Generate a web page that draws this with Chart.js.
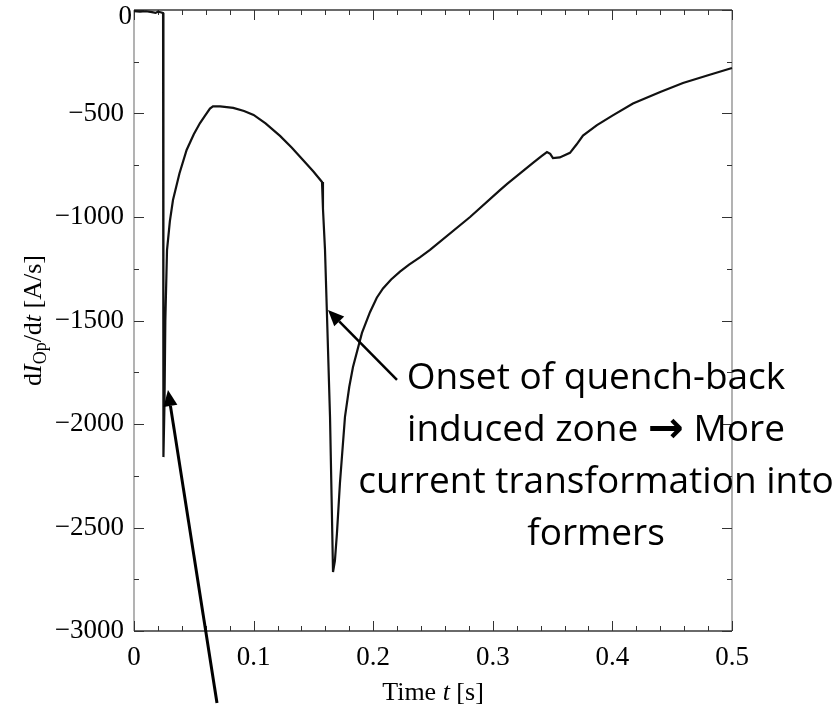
<!DOCTYPE html>
<html>
<head>
<meta charset="utf-8">
<script src="https://cdn.jsdelivr.net/npm/chart.js@4/dist/chart.umd.min.js"></script>
<style>
  html, body { margin: 0; padding: 0; background: #ffffff; }
  #chart { display: block; }
</style>
</head>
<body>
<canvas id="chart" width="838" height="709"></canvas>
<script>
// Time base of the measured trace [s]
const timeS = [
  0, 0.005, 0.010, 0.015, 0.018, 0.020, 0.023, 0.0243,
  0.0246, 0.0255, 0.0262, 0.0276, 0.0300, 0.0326, 0.038, 0.044,
  0.050, 0.0552, 0.060, 0.0635, 0.066, 0.072, 0.083, 0.092,
  0.100, 0.110, 0.1221, 0.132, 0.1413, 0.150, 0.1572, 0.1580,
  0.1597, 0.1614, 0.1639, 0.1652, 0.1664, 0.1680, 0.1697, 0.1722,
  0.1764, 0.180, 0.1831, 0.1906, 0.1973, 0.203, 0.2082, 0.215,
  0.2224, 0.230, 0.239, 0.2475, 0.281, 0.306, 0.312, 0.3336,
  0.341, 0.3453, 0.348, 0.3503, 0.356, 0.3645, 0.370, 0.3754,
  0.3871, 0.400, 0.4172, 0.440, 0.459, 0.480, 0.500
];

// Rate of change of the operating current dI_Op/dt [A/s]
const dIdtValues = [
  -5, -8, -6, -10, -14, -8, -12, -15,
  -2160, -1900, -1500, -1160, -1020, -918, -790, -676,
  -600, -546, -505, -476, -465, -466, -473, -488,
  -507, -548, -608, -665, -725, -780, -831, -960,
  -1159, -1483, -1966, -2350, -2715, -2660, -2527, -2285,
  -1966, -1820, -1725, -1560, -1460, -1390, -1345, -1302,
  -1264, -1230, -1195, -1159, -1000, -870, -840, -739,
  -705, -686, -695, -715, -712, -690, -650, -607,
  -556, -510, -452, -396, -353, -315, -280
];

// Axis ticks
const xMajorTicks = [0, 0.1, 0.2, 0.3, 0.4, 0.5];
const xMinorTicks = [0.02, 0.04, 0.06, 0.08, 0.12, 0.14, 0.16, 0.18, 0.22, 0.24, 0.26, 0.28,
                     0.32, 0.34, 0.36, 0.38, 0.42, 0.44, 0.46, 0.48];
const yMajorTicks = [0, -500, -1000, -1500, -2000, -2500, -3000];
const yMinorTicks = [-250, -750, -1250, -1750, -2250, -2750];

// Annotation text and arrows (tip / tail in data units)
const noteLines = ['Onset of quench-back', 'induced zone \u2192 More', 'current transformation into', 'formers'];
const arrowTips  = [[0.0284, -1836], [0.1622, -1449]];
const arrowTails = [[0.0694, -3348], [0.2199, -1787]];

const SERIF = '"Liberation Serif", "Times New Roman", serif';
const SANS = '"Open Sans", "Noto Sans", sans-serif';
const TICK_FONT = '27px ' + SERIF;

function drawRuns(ctx, runs, x, y) {
  let cx = x;
  runs.forEach(r => {
    ctx.font = r.font;
    ctx.fillText(r.text, cx, y + (r.dy || 0));
    cx += ctx.measureText(r.text).width;
  });
}
function runsWidth(ctx, runs) {
  let w = 0;
  runs.forEach(r => { ctx.font = r.font; w += ctx.measureText(r.text).width; });
  return w;
}

function arrow(ctx, x0, y0, x1, y1, lw, headLen, headHalf) {
  const ang = Math.atan2(y1 - y0, x1 - x0);
  const bx = x1 - headLen * Math.cos(ang);
  const by = y1 - headLen * Math.sin(ang);
  ctx.strokeStyle = '#000';
  ctx.lineWidth = lw;
  ctx.beginPath();
  ctx.moveTo(x0, y0);
  ctx.lineTo(bx, by);
  ctx.stroke();
  ctx.fillStyle = '#000';
  ctx.beginPath();
  ctx.moveTo(x1, y1);
  ctx.lineTo(bx + headHalf * Math.sin(ang), by - headHalf * Math.cos(ang));
  ctx.lineTo(bx - headHalf * Math.sin(ang), by + headHalf * Math.cos(ang));
  ctx.closePath();
  ctx.fill();
}

// Box frame with inward ticks on all four sides
const framePlugin = {
  id: 'frame',
  beforeDatasetsDraw(chart) {
    const ctx = chart.ctx;
    const a = chart.chartArea;
    const xs = chart.scales.x, ys = chart.scales.y;
    ctx.save();
    ctx.lineWidth = 1.3;
    ctx.strokeStyle = '#8a8a8a';
    ctx.beginPath();
    ctx.moveTo(a.left, a.top); ctx.lineTo(a.left, a.bottom);
    ctx.moveTo(a.right, a.top); ctx.lineTo(a.right, a.bottom);
    ctx.stroke();
    ctx.strokeStyle = '#3a3a3a';
    ctx.beginPath();
    ctx.moveTo(a.left, a.top); ctx.lineTo(a.right, a.top);
    ctx.moveTo(a.left, a.bottom); ctx.lineTo(a.right, a.bottom);
    ctx.stroke();

    ctx.strokeStyle = '#333';
    ctx.lineWidth = 1;
    ctx.beginPath();
    const xt = (v, len) => {
      const p = Math.round(xs.getPixelForValue(v)) + 0.5;
      ctx.moveTo(p, a.bottom); ctx.lineTo(p, a.bottom - len);
      ctx.moveTo(p, a.top); ctx.lineTo(p, a.top + len);
    };
    const yt = (v, len) => {
      const p = Math.round(ys.getPixelForValue(v)) + 0.5;
      ctx.moveTo(a.left, p); ctx.lineTo(a.left + len, p);
      ctx.moveTo(a.right, p); ctx.lineTo(a.right - len, p);
    };
    xMajorTicks.forEach(v => xt(v, 10));
    xMinorTicks.forEach(v => xt(v, 5));
    yMajorTicks.forEach(v => yt(v, 10));
    yMinorTicks.forEach(v => yt(v, 5));
    ctx.stroke();
    ctx.restore();
  }
};

// Axis titles (mixed italic / subscript), the top y label and the annotations
const labelPlugin = {
  id: 'labels',
  afterDraw(chart) {
    const ctx = chart.ctx;
    const a = chart.chartArea;
    const xs = chart.scales.x, ys = chart.scales.y;
    ctx.save();
    ctx.fillStyle = '#000';

    // the y label at the top edge sits just below the frame corner
    ctx.font = TICK_FONT;
    ctx.textAlign = 'right';
    ctx.textBaseline = 'middle';
    ctx.fillText('0', a.left - 2, ys.getPixelForValue(0) + 7);

    ctx.textBaseline = 'alphabetic';
    ctx.textAlign = 'left';

    // x-axis title
    const xRuns = [
      { text: 'Time ', font: '26px ' + SERIF },
      { text: 't', font: 'italic 26px ' + SERIF },
      { text: ' [s]', font: '26px ' + SERIF }
    ];
    const xw = runsWidth(ctx, xRuns);
    drawRuns(ctx, xRuns, (a.left + a.right) / 2 - xw / 2, 700);

    // y-axis title
    const yRuns = [
      { text: 'd', font: '26px ' + SERIF },
      { text: 'I', font: 'italic 26px ' + SERIF },
      { text: 'Op', font: '18px ' + SERIF, dy: 5 },
      { text: '/d', font: '26px ' + SERIF },
      { text: 't', font: 'italic 26px ' + SERIF },
      { text: ' [A/s]', font: '26px ' + SERIF }
    ];
    const yw = runsWidth(ctx, yRuns);
    ctx.save();
    ctx.translate(41, (a.top + a.bottom) / 2);
    ctx.rotate(-Math.PI / 2);
    drawRuns(ctx, yRuns, -yw / 2, 0);
    ctx.restore();

    // arrows
    arrow(ctx, xs.getPixelForValue(arrowTails[0][0]), ys.getPixelForValue(arrowTails[0][1]),
               xs.getPixelForValue(arrowTips[0][0]), ys.getPixelForValue(arrowTips[0][1]), 3, 16, 7);
    arrow(ctx, xs.getPixelForValue(arrowTails[1][0]), ys.getPixelForValue(arrowTails[1][1]),
               xs.getPixelForValue(arrowTips[1][0]), ys.getPixelForValue(arrowTips[1][1]), 2.5, 16, 7);

    // annotation text, sized so the longest line spans its box
    ctx.font = '100px ' + SANS;
    const size = Math.round(100 * 472 / ctx.measureText(noteLines[2]).width);
    const baseFont = size + 'px ' + SANS;
    const cx = 596;
    noteLines.forEach((line, i) => {
      const y = 389 + i * 52;
      if (line.indexOf('\u2192') >= 0) {
        // the bold arrow glyph is set in its own heavier face
        const parts = line.split('\u2192');
        const runs = [
          { text: parts[0], font: baseFont },
          { text: '\u2192', font: 'bold ' + Math.round(size * 1.15) + 'px "DejaVu Sans", sans-serif', dy: 1 },
          { text: parts[1], font: baseFont }
        ];
        const w = runsWidth(ctx, runs);
        ctx.textAlign = 'left';
        drawRuns(ctx, runs, cx - w / 2, y);
      } else {
        ctx.font = baseFont;
        ctx.textAlign = 'center';
        ctx.fillText(line, cx, y);
      }
    });
    ctx.restore();
  }
};

new Chart(document.getElementById('chart'), {
  type: 'scatter',
  data: {
    datasets: [{
      data: timeS.map((t, i) => ({ x: t, y: dIdtValues[i] })),
      showLine: true,
      borderColor: '#111',
      borderWidth: 2.2,
      pointRadius: 0,
      tension: 0,
      clip: 6
    }]
  },
  options: {
    responsive: false,
    devicePixelRatio: 1,
    animation: false,
    layout: { padding: { top: 10, right: 106, left: 0, bottom: 0 } },
    plugins: { legend: { display: false }, tooltip: { enabled: false } },
    scales: {
      x: {
        type: 'linear',
        min: 0, max: 0.5,
        grid: { display: false },
        border: { display: false },
        ticks: {
          stepSize: 0.1,
          color: '#000',
          padding: 3,
          maxRotation: 0,
          font: { family: SERIF, size: 27 },
          callback: v => (Math.abs(v) < 1e-9 ? '0' : v.toFixed(1))
        },
        afterFit(s) { s.height = 78; s.paddingLeft = 0; s.paddingRight = 0; }
      },
      y: {
        type: 'linear',
        min: -3000, max: 0,
        grid: { display: false },
        border: { display: false },
        ticks: {
          stepSize: 500,
          color: '#000',
          padding: 2,
          font: { family: SERIF, size: 27 },
          // the zero label is placed by the labels plugin
          callback: v => (v === 0 ? '' : '\u2212' + Math.abs(v))
        },
        afterFit(s) { s.width = 134; s.paddingTop = 0; s.paddingBottom = 0; }
      }
    }
  },
  plugins: [framePlugin, labelPlugin]
});
</script>
</body>
</html>
